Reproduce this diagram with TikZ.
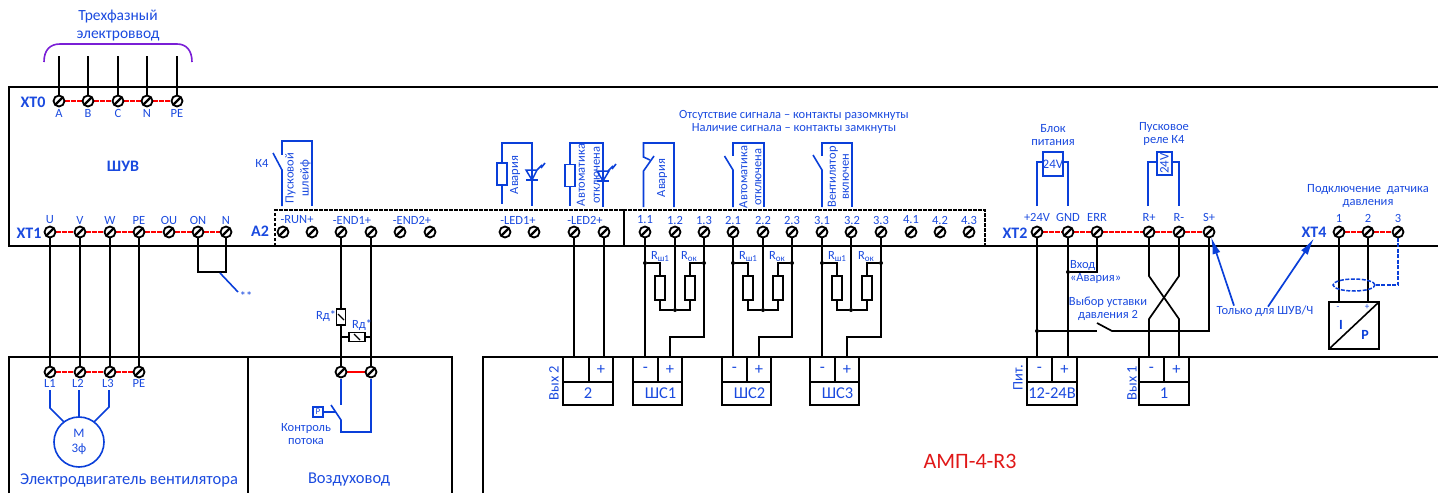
\documentclass[tikz,border=0pt]{standalone}
\usepackage{fontspec}
\setmainfont{Carlito}
\usetikzlibrary{backgrounds,arrows.meta,shapes.geometric}
\definecolor{tblue}{HTML}{1A4ADF}
\definecolor{wblue}{HTML}{0A3FD9}
\definecolor{bpurple}{HTML}{7A1FD6}
\definecolor{tred}{HTML}{E01818}
\newcommand{\fsz}[2]{\fontsize{#1}{#2}\selectfont}
\tikzset{
  wire/.style={draw=black,line width=1.7pt},
  thin wire/.style={draw=black,line width=1.4pt},
  frameline/.style={draw=black,line width=1.6pt},
  bw/.style={draw=wblue,line width=1.6pt},
  bridge/.style={draw=red,line width=1.5pt,dash pattern=on 5pt off 1.2pt},
  lbl/.style={text=tblue,font=\fsz{12.5}{13},inner sep=0pt,outer sep=0pt,align=center},
  rlbl/.style={lbl,rotate=90},
  big/.style={text=tblue,font=\fsz{16.5}{18},inner sep=0pt,align=center},
  head/.style={text=tblue,font=\fsz{15.5}{18},inner sep=0pt,align=center},
  block/.style={text=tblue,font=\bfseries\fsz{16}{18},inner sep=0pt},
  screw/.style={circle,draw=black,line width=1.8pt,minimum size=11pt,inner sep=0pt,outer sep=0pt,fill=white,
    path picture={\draw[line width=2.3pt] (path picture bounding box.south west) -- (path picture bounding box.north east);}},
  cell/.style={draw=black,line width=1.6pt,fill=white,inner sep=0pt,outer sep=0pt,text=tblue,font=\fsz{16.5}{17}},
  res/.style={draw=black,line width=1.5pt,fill=white,inner sep=0pt,outer sep=0pt,minimum width=10pt,minimum height=24pt},
  bres/.style={draw=wblue,line width=1.6pt,fill=white,inner sep=0pt,outer sep=0pt,minimum width=10pt,minimum height=22pt},
  coilbox/.style={draw=wblue,line width=1.6pt,inner sep=0pt,outer sep=0pt,text=tblue,font=\fsz{13}{13}},
  slashres/.style={draw=black,line width=1.5pt,fill=white,inner sep=0pt,outer sep=0pt,
    path picture={\draw[line width=1.2pt] ([shift={(-3pt,3pt)}]path picture bounding box.center) -- ([shift={(3pt,-3pt)}]path picture bounding box.center);}},
  dotj/.style={circle,fill=black,inner sep=0pt,minimum size=4pt},
  redtext/.style={text=tred,font=\fsz{22}{24},inner sep=0pt},
  ahead/.style={draw=wblue,line width=1.7pt,-{Latex[length=17pt,width=8pt]}}
}
\newcommand{\TB}[7]{%
  \node[cell,anchor=north west,minimum width={#3-#2},minimum height=25] (#1m) at (#2,357) {#5};
  \node[cell,anchor=north west,minimum width={#4-#3},minimum height=25] (#1p) at (#3,357) {#6};
  \node[cell,anchor=north west,minimum width={#4-#2},minimum height=23] (#1b) at (#2,382) {#7};
}
\begin{document}
\begin{tikzpicture}[x=1pt,y=-1pt]
\useasboundingbox (0,0) rectangle (1438,493);
% ---------- terminals
\foreach \n/\x/\t in {a/59/A,b/88/B,c/118/C,n/147/N,e/177/PE}{
  \node[screw] (x0\n) at (\x,101) {};
  \node[lbl] (lx0\n) at (\x,113) {\t};
}
\foreach \n/\x/\t in {u/50/U,v/80/V,w/110/W,e/139/PE,o/169/OU,p/198/ON,n/226/N}{
  \node[screw] (x1\n) at (\x,232) {};
  \node[lbl] (lx1\n) at (\x,220) {\t};
}
\foreach \n/\x in {a/50,b/80,c/110,d/139}{
  \node[screw] (mot\n) at (\x,372) {};
}
\node[lbl] (lma) at (50,383) {L1};
\node[lbl] (lmb) at (78,383) {L2};
\node[lbl] (lmc) at (108,383) {L3};
\node[lbl] (lmd) at (139,383) {PE};
\foreach \n/\x in {ra/283,rb/312,ea/341,eb/371,fa/400,fb/430,la/505,lb/534,ma/574,mb/604,
  s11/645,s12/675,s13/704,s21/733,s22/763,s23/792,s31/822,s32/851,s33/881,s41/911,s42/940,s43/969}{
  \node[screw] (\n) at (\x,232) {};
}
\foreach \n/\x/\t in {run/297/-RUN+,end1/352/-END1+,end2/412/-END2+,led1/518/-LED1+,led2/585/-LED2+,
  t11/645/1.1,t12/675/1.2,t13/704/1.3,t21/733/2.1,t22/763/2.2,t23/792/2.3,t31/822/3.1,t32/852/3.2,t33/881/3.3,t41/911/4.1,t42/940/4.2,t43/969/4.3}{
  \node[lbl] (l\n) at (\x,220) {\t};
}
\foreach \n/\x/\t in {p/1037/+24V,g/1068/GND,r/1097/ERR,k/1149/R+,l/1179/R-,s/1209/S+}{
  \node[screw] (x2\n) at (\x,232) {};
  \node[lbl] (lx2\n) at (\x,217.5) {\t};
}
\foreach \n/\x/\t in {a/1339/1,b/1368/2,c/1398/3}{
  \node[screw] (x4\n) at (\x,232) {};
  \node[lbl] (lx4\n) at (\x,218) {\t};
}
\node[screw] (da) at (341,372) {};
\node[screw] (db) at (371,372) {};
% ---------- block names
\node[block] (nx0) at (33,102) {XT0};
\node[block] (nx1) at (29,233) {XT1};
\node[block] (na2) at (260,231) {A2};
\node[block] (nx2) at (1015,233) {XT2};
\node[block] (nx4) at (1314,232) {XT4};
\node[block] (nshuv) at (123,166) {ШУВ};
\node[head] (tin) at (118,26) {Трехфазный\\электроввод};
\node[big] (tmot) at (129,480) {Электродвигатель вентилятора};
\node[big] (tduct) at (349,480) {Воздуховод};
\node[redtext] (tamp) at (970,461) {АМП-4-R3};
\node[lbl] (tsig) at (794,121.5) {Отсутствие сигнала – контакты разомкнуты\\Наличие сигнала – контакты замкнуты};
\node[lbl] (tpsu) at (1053,135) {Блок\\питания};
\node[lbl] (trel) at (1164,133.5) {Пусковое\\реле К4};
\node[lbl] (tsens) at (1368,196.5) {Подключение\ \ датчика\\давления};
\node[lbl,align=left,anchor=west] (talarm) at (1070,271.5) {Вход\\«Авария»};
\node[lbl] (tsel) at (1108,309) {Выбор уставки\\давления 2};
\node[lbl] (tonly) at (1265,311) {Только для ШУВ/Ч};
\node[lbl] (tk4) at (262,163) {К4};
\node[lbl] (tstar) at (246,296) {**};
\node[lbl] (trd1) at (326,316) {Rд*};
\node[lbl] (trd2) at (362,325) {Rд*};
\node[lbl] (tflow) at (306,434) {Контроль\\потока};
\node[rlbl,font=\fsz{12.5}{15}] (tloop) at (298,178) {Пусковой\\шлейф};
\node[rlbl] (tled1) at (515,175) {Авария};
\node[rlbl,font=\fsz{12.5}{15}] (tled2) at (588.5,175) {Автоматика\\отключена};
\node[rlbl] (trel1) at (662,178) {Авария};
\node[rlbl,font=\fsz{12.5}{14}] (trel2) at (750.5,177) {Автоматика\\отключена};
\node[rlbl,font=\fsz{12.5}{13}] (trel3) at (838.5,177) {Вентилятор\\включен};
\node[rlbl,font=\fsz{14.5}{15}] (tv2) at (554,383) {Вых 2};
\node[rlbl,font=\fsz{14.5}{15}] (tv1) at (1132,383) {Вых 1};
\node[rlbl,font=\fsz{14.5}{15}] (tpit) at (1018,378) {Пит.};
% ---------- terminal blocks
\TB{vb}{563}{589}{613}{}{+}{2}
\TB{sa}{633}{658}{682}{-}{+}{\hspace*{6pt}ШС1}
\TB{sb}{722}{747}{771}{-}{+}{\hspace*{6pt}ШС2}
\TB{sc}{810}{835}{859}{-}{+}{\hspace*{6pt}ШС3}
\TB{pb}{1027}{1052}{1077}{-}{+}{12-24В}
\TB{kb}{1139}{1164}{1189}{-}{+}{1}
% ---------- resistors and junctions
\foreach \g/\ra/\rb/\jm/\ja/\jc in {1/660/690/675/645/704,2/748/778/763/733/792,3/837/867/851/822/881}{
  \node[res] (ra\g) at (\ra,288) {};
  \node[res] (rb\g) at (\rb,288) {};
  \node[dotj] (jl\g) at (\ja,263) {};
  \node[dotj] (jr\g) at (\jc,263) {};
  \node[dotj] (jm\g) at (\jm,310) {};
  \node[lbl] (lra\g) at (\ra,256.5) {R\raisebox{-2pt}{\fsz{9}{9}ш1}};
  \node[lbl] (lrb\g) at (\rb-1,256.5) {R\raisebox{-2pt}{\fsz{9}{9}ок}};
}
\node[slashres,minimum width=9pt,minimum height=16pt] (rd1) at (341,317) {};
\node[slashres,minimum width=16pt,minimum height=9pt] (rd2) at (357,337) {};
\node[dotj] (j24) at (1037,331) {};
\node[dotj] (jgnd) at (1068,272) {};
\coordinate (sw1) at (1097,331);
\coordinate (sw2) at (1112,331);
% ---------- sensor
\node[draw=black,line width=1.6pt,fill=white,minimum width=50pt,minimum height=47pt,inner sep=0pt,outer sep=0pt] (sens) at (1354,325.5) {};
\draw[line width=1.6pt] (sens.south west) -- (sens.north east);
\node[text=tblue,font=\fsz{9}{9},inner sep=0pt] (sm) at (1338,308) {-};
\node[text=tblue,font=\fsz{9}{9},inner sep=0pt] (sp) at (1367,307) {+};
\node[text=wblue,font=\bfseries\fsz{14}{14},inner sep=0pt] (si) at (1341,325) {I};
\node[text=wblue,font=\bfseries\fsz{14}{14},inner sep=0pt] (sP) at (1365,335) {P};
\node[ellipse,draw=wblue,line width=1.5pt,dash pattern=on 4pt off 1.5pt,minimum width=42pt,minimum height=12pt,inner sep=0pt,outer sep=0pt] (shield) at (1354,285) {};
% ---------- coils and blue symbols
\node[coilbox,minimum width=20pt,minimum height=24pt] (c24) at (1053,164) {24V};
\node[coilbox,rotate=90,minimum width=23pt,minimum height=15pt] (k24) at (1164.5,163.5) {24V};
\node[bres] (lr1) at (502,174) {};
\node[bres] (lr2) at (570,175.5) {};
\node[circle,draw=wblue,line width=1.6pt,minimum size=50pt,inner sep=0pt,outer sep=0pt,text=tblue,font=\fsz{13}{14.5},align=center] (motor) at (79,442) {М\\3ф};
\node[draw=wblue,line width=1.6pt,minimum size=10pt,inner sep=0pt,outer sep=0pt,text=tblue,font=\fsz{9}{9}] (pbox) at (318,412) {P};
% ================ lines, below the nodes
\begin{scope}[on background layer]
  % frames
  \draw[frameline] (1438,87) -- (9,87) -- (9,246) -- (1438,246);
  \draw[frameline] (9,493) -- (9,357) -- (452,357) -- (452,493);
  \draw[frameline] (248,357) -- (248,493);
  \draw[frameline] (483,493) -- (483,357) -- (1438,357);
  % A2 boxes
  \draw[draw=black,line width=1.5pt,dash pattern=on 3.5pt off 1.5pt] (275,246) rectangle (624,210);
  \draw[draw=black,line width=1.5pt,dash pattern=on 3.5pt off 1.5pt] (624,246) rectangle (985,210);
  % bridges
  \draw[bridge] (x0a) -- (x0b) -- (x0c) -- (x0n) -- (x0e);
  \draw[bridge] (x1u) -- (x1v) -- (x1w) -- (x1e) -- (x1o) -- (x1p) -- (x1n);
  \draw[bridge] (mota) -- (motb) -- (motc) -- (motd);
  \draw[bridge] (x2p) -- (x2g) -- (x2r) -- (x2k) -- (x2l) -- (x2s);
  \draw[bridge] (x4a) -- (x4b) -- (x4c);
  \draw[draw=red,line width=1.5pt] (da) -- (db);
  % purple bracket
  \draw[draw=bpurple,line width=1.6pt] (44,62) .. controls (44,50) and (50,44) .. (60,44) -- (177,44) .. controls (186,44) and (192,50) .. (192,62);
  % feed
  \foreach \n in {a,b,c,n,e}{\draw[wire] (x0\n) -- ++(0,-45);}
  % motor feed
  \draw[wire] (x1u) -- (mota);
  \draw[wire] (x1v) -- (motb);
  \draw[wire] (x1w) -- (motc);
  \draw[wire] (x1e) -- (motd);
  % ON-N loop
  \draw[wire] (x1p) -- ++(0,40) -| (x1n);
  \draw[bw] (220,273) -- (238,292);
  % Rd
  \draw[wire] (ea) -- (da);
  \draw[wire] (eb) -- (db);
  \draw[line width=1.3pt] (341,337) -- (rd2.west);
  \draw[line width=1.3pt] (rd2.east) -- (371,337);
  % LED2 wires
  \draw[wire] (ma) -- (ma |- vbm.north);
  \draw[wire] (mb) -- (mb |- vbp.north);
  % resistor groups
  \foreach \g/\b in {1/sa,2/sb,3/sc}{
    \draw[wire] (s\g1) -- (s\g1 |- \b m.north);
    \draw[wire] (s\g2) -- (jm\g);
    \draw[thin wire] (jl\g) -| (ra\g.north);
    \draw[thin wire] (jr\g) -| (rb\g.north);
    \draw[thin wire] (ra\g.south) |- (jm\g);
    \draw[thin wire] (rb\g.south) |- (jm\g);
    \draw[wire] (s\g3) -- (s\g3 |- 0,337) -| (\b p.north);
  }
  % XT2
  \draw[wire] (x2p) -- (x2p |- pbm.north);
  \draw[wire] (x2g) -- (x2g |- pbp.north);
  \draw[wire] (x2r) -- (x2r |- jgnd) -- (jgnd);
  \draw[wire] (x2k) -- ++(0,44) -- (1179,319) -- (1179,357);
  \draw[wire] (x2l) -- ++(0,44) -- (1149,319) -- (1149,357);
  \draw[wire] (x2s) -- (x2s |- sw2) -- (sw2) -- (1097,323);
  \draw[wire] (j24) -- (sw1);
  % XT4
  \draw[wire] (x4a) -- (x4a |- sens.north);
  \draw[wire] (x4b) -- (x4b |- sens.north);
  \draw[draw=wblue,line width=1.5pt,dash pattern=on 4pt off 1.5pt] (x4c) -- (x4c |- shield) -- (shield.east);
  % coils
  \draw[bw] (1037,206) -- (1037,162) -- (c24.west |- 0,162);
  \draw[bw] (c24.east |- 0,162) -- (1068,162) -- (1068,206);
  \draw[bw] (1148,206) -- (1148,162) -- (1157,162);
  \draw[bw] (1172,162) -- (1179,162) -- (1179,206);
  % arrows
  \draw[ahead] ([xshift=-31pt]tonly.north) -- (x2s.-68);
  \draw[ahead] ([xshift=3pt,yshift=-1pt]tonly.north) -- ([yshift=-1pt]nx4.south);
  % K4
  \draw[bw] (312,206) -- (312,141) -- (282,141) -- (282,155);
  \draw[bw] (282,206) -- (282,170) -- (273,153);
  % LED1
  \draw[bw] (lr1.south) -- (502,204);
  \draw[bw] (lr1.north) -- (502,143) -- (532,143) -- (532,206);
  \draw[bw,line width=1.5pt] (526,170) -- (537,170) -- (532,180) -- cycle;
  \draw[bw] (526,180) -- (538,180);
  \draw[bw] (537,170) -- (542,165);
  \draw[bw] (541,168) -- (545,163);
  % LED2
  \draw[bw] (570,206) -- (lr2.south);
  \draw[bw] (lr2.north) -- (570,143) -- (603,143) -- (603,207);
  \draw[bw,line width=1.5pt] (597,171) -- (609,171) -- (603,181) -- cycle;
  \draw[bw] (597,181) -- (609,181);
  \draw[bw] (608,171) -- (613,166);
  \draw[bw] (612,169) -- (616,164);
  % relay contacts
  \draw[bw] (674,207) -- (674,143) -- (643.5,143) -- (643.5,157) -- (650,160);
  \draw[bw] (654,156) -- (643.5,171) -- (643.5,207);
  \draw[bw] (764,207) -- (764,143) -- (733,143) -- (733,156);
  \draw[bw] (724.5,156) -- (733,170) -- (733,207);
  \draw[bw] (852,207) -- (852,143) -- (822,143) -- (822,156);
  \draw[bw] (813,155) -- (822,170) -- (822,207);
  % flow switch and motor
  \draw[bw] (341,379) -- (341,405);
  \draw[bw] (331,405) -- (341,420) -- (341,432) -- (371,432) -- (371,379);
  \draw[bw] (pbox.east) -- (336,412);
  \draw[bw] (50,390) -- (50,408) -- (motor.127);
  \draw[bw] (79,390) -- (motor.north);
  \draw[bw] (109,390) -- (109,407) -- (motor.53);
\end{scope}
\end{tikzpicture}
\end{document}
